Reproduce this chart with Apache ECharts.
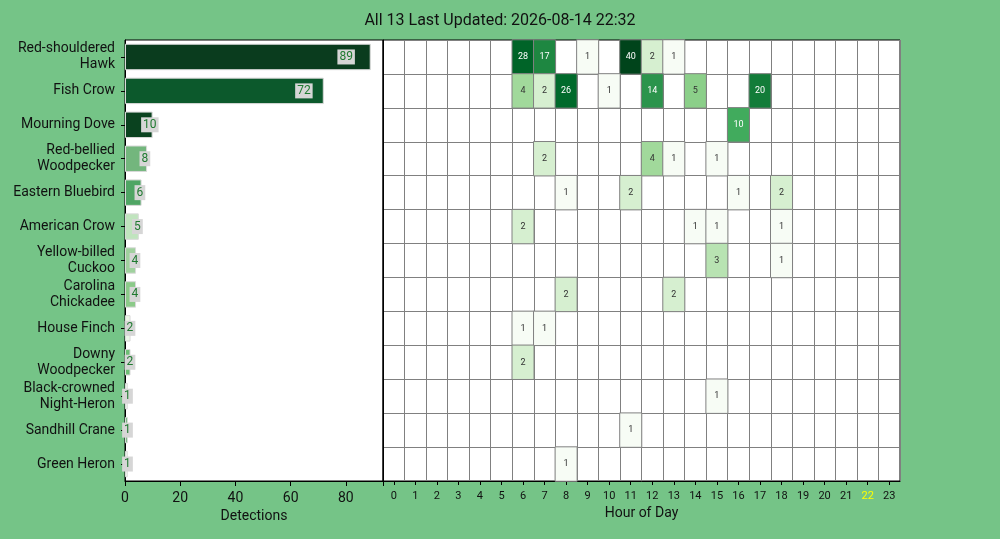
<!DOCTYPE html>
<html>
<head>
<meta charset="utf-8">
<script src="https://cdn.jsdelivr.net/npm/echarts@6/dist/echarts.min.js"></script>
<style>
html, body { margin: 0; padding: 0; background: #75c487; }
#chart { width: 1000px; height: 539px; }
</style>
</head>
<body>
<div id="chart"></div>
<script>
// 数据
var titleText = 'All 13 Last Updated: 2026-08-14 22:32';
var species = [
    'Red-shouldered\nHawk', 'Fish Crow', 'Mourning Dove', 'Red-bellied\nWoodpecker',
    'Eastern Bluebird', 'American Crow', 'Yellow-billed\nCuckoo', 'Carolina\nChickadee',
    'House Finch', 'Downy\nWoodpecker', 'Black-crowned\nNight-Heron', 'Sandhill Crane', 'Green Heron'
];
var totals = [89, 72, 10, 8, 6, 5, 4, 4, 2, 2, 1, 1, 1];
var hours = ['0', '1', '2', '3', '4', '5', '6', '7', '8', '9', '10', '11',
    '12', '13', '14', '15', '16', '17', '18', '19', '20', '21', '22', '23'];
var currentHour = '22';
// [物种序号, 小时, 次数]
var hourCounts = [
    [0, 6, 28], [0, 7, 17], [0, 9, 1], [0, 11, 40], [0, 12, 2], [0, 13, 1],
    [1, 6, 4], [1, 7, 2], [1, 8, 26], [1, 10, 1], [1, 12, 14], [1, 14, 5], [1, 17, 20],
    [2, 16, 10],
    [3, 7, 2], [3, 12, 4], [3, 13, 1], [3, 15, 1],
    [4, 8, 1], [4, 11, 2], [4, 16, 1], [4, 18, 2],
    [5, 6, 2], [5, 14, 1], [5, 15, 1], [5, 18, 1],
    [6, 15, 3], [6, 18, 1],
    [7, 8, 2], [7, 13, 2],
    [8, 6, 1], [8, 7, 1],
    [9, 6, 2],
    [10, 15, 1],
    [11, 11, 1],
    [12, 8, 1]
];

// 样式
var barColors = ['#0a3c1e', '#0c592c', '#0a421f', '#73b67d', '#4fa564', '#c0e4be', '#a0d19e',
    '#8bca89', '#ebf6e7', '#6dbd74', '#f0f8ec', '#5cae6a', '#eef7ea'];
var greens = ['#f7fcf5', '#e5f5e0', '#c7e9c0', '#a1d99b', '#74c476', '#41ab5d', '#238b45', '#006d2c', '#00441b'];

var maxCount = Math.max.apply(null, hourCounts.map(function (d) { return d[2]; }));

// 热力图数据，第4维为对数值用于着色
var heatData = hourCounts.map(function (d) {
    return {
        value: [d[1], d[0], d[2], Math.log(d[2])],
        label: { color: d[2] >= 10 ? '#ffffff' : '#333333' }
    };
});

var myChart = echarts.init(document.getElementById('chart'));

var option = {
    backgroundColor: '#75c487',
    textStyle: { fontFamily: 'Roboto' },
    title: {
        text: titleText,
        left: 'center',
        top: 8,
        textStyle: { fontSize: 16, fontWeight: 'normal', color: '#111', fontFamily: 'Roboto' }
    },
    visualMap: {
        show: false,
        seriesIndex: 1,
        dimension: 3,
        min: 0,
        max: Math.log(maxCount),
        inRange: { color: greens }
    },
    grid: [
        { left: 125, top: 40, width: 258, height: 441, show: true, backgroundColor: '#fff', borderColor: '#000', borderWidth: 1 },
        { left: 383, top: 40, width: 517, height: 441, show: true, backgroundColor: '#fff', borderColor: '#000', borderWidth: 1 }
    ],
    xAxis: [
        {
            gridIndex: 0,
            type: 'value',
            min: 0,
            max: 93.45,
            interval: 20,
            name: 'Detections',
            nameLocation: 'middle',
            nameGap: 28,
            nameTextStyle: { fontSize: 14, color: '#111' },
            axisLine: { show: true, lineStyle: { color: '#000' } },
            axisTick: { show: true, length: 5, lineStyle: { color: '#000' } },
            axisLabel: {
                fontSize: 14, color: '#111', margin: 10,
                formatter: function (v) { return v % 20 === 0 ? v : ''; }
            },
            splitLine: { show: false }
        },
        {
            gridIndex: 1,
            type: 'category',
            data: hours,
            name: 'Hour of Day',
            nameLocation: 'middle',
            nameGap: 25,
            nameTextStyle: { fontSize: 14, color: '#111' },
            axisLine: { show: true, lineStyle: { color: '#000' } },
            axisTick: { show: true, alignWithLabel: true, length: 4, lineStyle: { color: '#000' } },
            axisLabel: {
                fontSize: 11, margin: 10, interval: 0,
                color: function (v) { return v === currentHour ? '#ffff00' : '#111'; }
            },
            splitLine: { show: true, lineStyle: { color: '#808080', width: 1 } }
        }
    ],
    yAxis: [
        {
            gridIndex: 0,
            type: 'category',
            inverse: true,
            data: species,
            axisLine: { show: true, lineStyle: { color: '#000' } },
            axisTick: { show: true, alignWithLabel: true, length: 4, lineStyle: { color: '#000' } },
            axisLabel: { fontSize: 14, lineHeight: 16, color: '#111', margin: 10, align: 'right', padding: [4, 0, 0, 0] },
            splitLine: { show: false }
        },
        {
            gridIndex: 1,
            type: 'category',
            inverse: true,
            data: species,
            axisLine: { show: true, lineStyle: { color: '#000' } },
            axisTick: { show: false },
            axisLabel: { show: false },
            splitLine: { show: true, lineStyle: { color: '#808080', width: 1 } }
        }
    ],
    series: [
        {
            name: 'Detections',
            type: 'bar',
            xAxisIndex: 0,
            yAxisIndex: 0,
            data: totals,
            barCategoryGap: '22%',
            itemStyle: {
                color: function (p) { return barColors[p.dataIndex]; },
                borderColor: '#d9d9d9',
                borderWidth: 1
            },
            label: {
                show: true,
                position: ['90%', '50%'],
                align: 'center',
                verticalAlign: 'middle',
                fontSize: 12,
                color: '#1f7a30',
                backgroundColor: '#d6d6d6',
                padding: [2, 2, 1, 2]
            }
        },
        {
            name: 'Hourly',
            type: 'heatmap',
            xAxisIndex: 1,
            yAxisIndex: 1,
            data: heatData,
            itemStyle: { borderColor: '#808080', borderWidth: 1 },
            label: {
                show: true,
                fontSize: 9,
                formatter: function (p) { return p.value[2]; }
            }
        }
    ]
};

myChart.setOption(option);
</script>
</body>
</html>
